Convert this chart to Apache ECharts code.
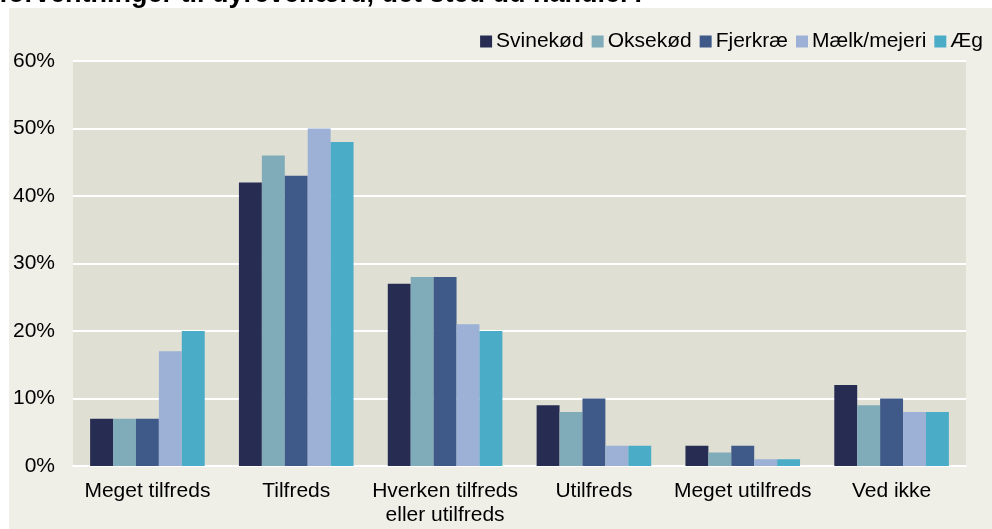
<!DOCTYPE html>
<html><head><meta charset="utf-8">
<script src="https://cdn.jsdelivr.net/npm/echarts@6/dist/echarts.min.js"></script>
<style>html,body{margin:0;padding:0;background:#FFFFFF}#c{width:992px;height:529px}</style>
</head><body><div id="c"></div>
<script>
const categories = ['Meget tilfreds','Tilfreds','Hverken tilfreds\neller utilfreds','Utilfreds','Meget utilfreds','Ved ikke'];
const seriesNames = ['Svinekød','Oksekød','Fjerkræ','Mælk/mejeri','Æg'];
const svinekod = [7,42,27,9,3,12];
const oksekod = [7,46,28,8,2,9];
const fjerkrae = [7,43,28,10,3,10];
const maelk = [17,50,21,3,1,8];
const aeg = [20,48,20,3,1,8];
const yTicks = [0,10,20,30,40,50,60];
const colors = ['#272D52','#80ABB8','#3F5A88','#9DB0D6','#4AACC6'];
const values = [svinekod,oksekod,fjerkrae,maelk,aeg];
const titleText = 'forventninger til dyrevelfærd, det sted du handler?';
const FONT = 'Liberation Sans, Arial, sans-serif';

const chart = echarts.init(document.getElementById('c'));
chart.setOption({
  backgroundColor:'#FFFFFF',
  animation:false,
  color:colors,
  graphic:[
    {type:'rect',left:9,top:8,z:-100,silent:true,shape:{width:983,height:521},style:{fill:'#EFEFE8'}},
    {type:'text',left:-1,top:-19,z:10,silent:true,style:{text:titleText,font:'bold 27px '+FONT,fill:'#000'}}
  ],
  legend:{right:4,top:26,itemWidth:12,itemHeight:12,itemGap:8,icon:'rect',
    textStyle:{fontFamily:FONT,fontSize:21,color:'#000',padding:[0,0,0,-1]},data:seriesNames},
  grid:{left:73,right:26,top:61,bottom:63,show:true,backgroundColor:'#DFDFD4',borderWidth:0},
  xAxis:{type:'category',data:categories,
    axisLine:{show:true,lineStyle:{color:'#FFFFFF',width:2}},axisTick:{show:false},
    axisLabel:{fontFamily:FONT,fontSize:21,color:'#000',margin:13,lineHeight:24,interval:0}},
  yAxis:{type:'value',min:0,max:60,interval:10,
    axisLine:{show:false},axisTick:{show:false},
    splitLine:{lineStyle:{color:'#FFFFFF',width:2}},
    axisLabel:{fontFamily:FONT,fontSize:21,color:'#000',margin:18,formatter:v=>v+'%'}},
  series:seriesNames.map((n,i)=>({name:n,type:'bar',data:values[i],barGap:'0%',barCategoryGap:'23%',
    itemStyle:{color:colors[i]}}))
});
</script></body></html>
